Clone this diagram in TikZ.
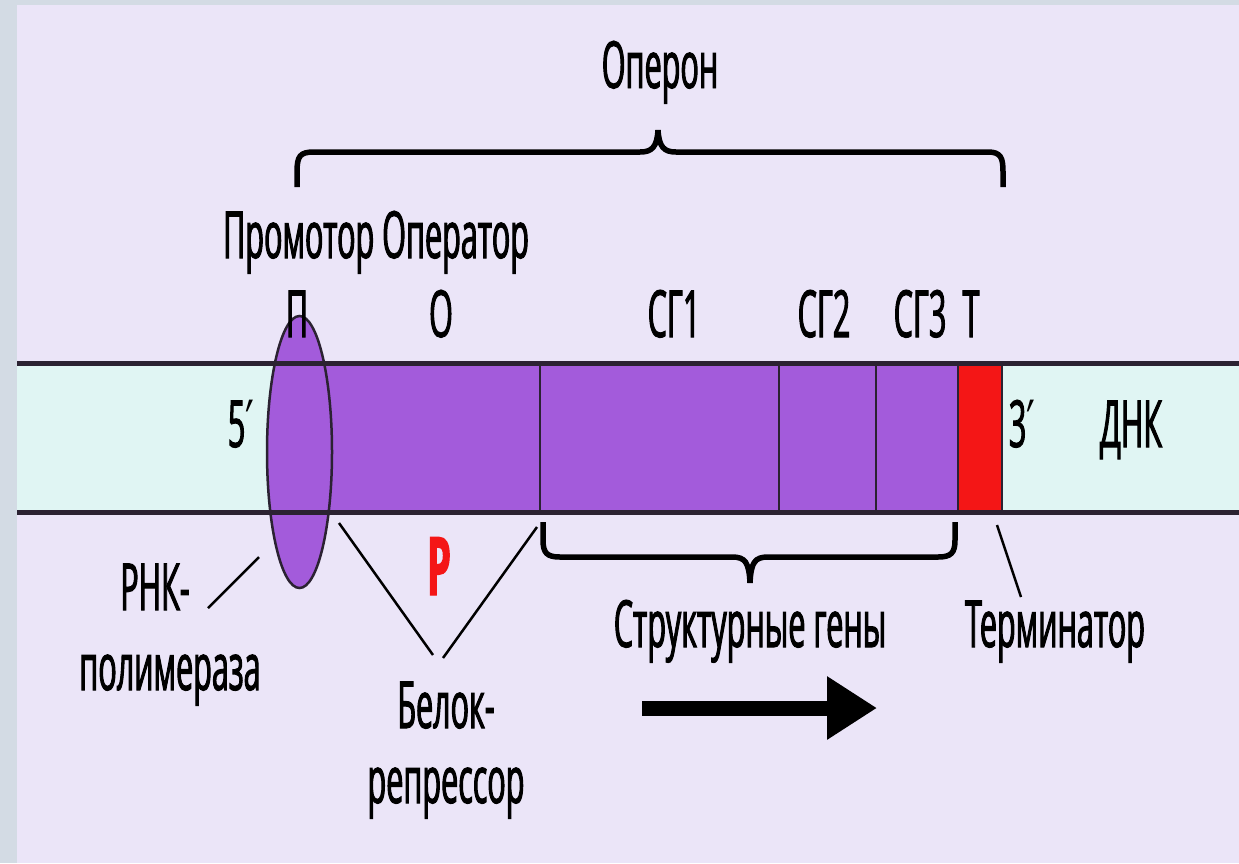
\documentclass[tikz,border=0pt]{standalone}
\usepackage{fontspec}
\setmainfont{Open Sans}[FakeStretch=0.47,FakeBold=1.5]
\newfontfamily\primefont{DejaVu Sans}[FakeStretch=0.6]
\usetikzlibrary{arrows.meta}

\definecolor{bgcol}{HTML}{EBE5F8}
\definecolor{rimcol}{HTML}{D3DBE4}
\definecolor{dnacol}{HTML}{E0F5F3}
\definecolor{genecol}{HTML}{A35BDB}
\definecolor{termcol}{HTML}{F41616}
\definecolor{edgecol}{HTML}{2B2232}

\tikzset{
  lbl/.style={anchor=base,inner sep=0pt,font=\fontsize{37}{44}\selectfont},
  strand/.style={edgecol,line width=0.1cm},
  border/.style={edgecol,line width=0.05cm},
  pointer/.style={black,line width=0.05cm},
  curly/.style={black,line width=0.11cm}
}

\begin{document}
\begin{tikzpicture}[x=0.02cm,y=-0.02cm]
\useasboundingbox (0,0) rectangle (1239,863);
\fill[rimcol] (0,0) rectangle (1239,863);
\fill[bgcol] (17,5) rectangle (1239,863);

% DNA band with operon
\fill[dnacol] (17,363) rectangle (1239,512);
\fill[genecol] (300,363) rectangle (958,512);
\fill[termcol] (958,363) rectangle (1002,512);
\filldraw[fill=genecol,draw=edgecol,line width=0.05cm] (299.5,452) ellipse [x radius=32.5,y radius=136];
\foreach \xb in {540,779,876,958,1002}
  \draw[border] (\xb,363) -- (\xb,512);
\draw[strand] (17,363) -- (1239,363);
\draw[strand] (17,512) -- (1239,512);

% labels
\node[lbl] (operon) at (660,88) {Оперон};
\node[lbl] (promop) at (376,258) {Промотор Оператор};
\node[lbl] (p) at (297,337) {П};
\node[lbl] (o) at (441,337) {О};
\node[lbl] (sg1) at (674,337) {СГ1};
\node[lbl] (sg2) at (824,337) {СГ2};
\node[lbl] (sg3) at (920,337) {СГ3};
\node[lbl] (t) at (971,337) {Т};
\node[lbl] (five) at (241,447) {5{\primefont ′}};
\node[lbl] (three) at (1022,447) {3{\primefont ′}};
\node[lbl] (dnk) at (1131,447) {ДНК};
\node[lbl] (rnk) at (155,610) {РНК-};
\node[lbl] (polym) at (170,690) {полимераза};
\node[lbl,termcol,font=\fontsize{46}{50}\selectfont\bfseries] (rep) at (439,595) {Р};
\node[lbl] (belok) at (446,728) {Белок-};
\node[lbl] (repr) at (446,803) {репрессор};
\node[lbl] (struct) at (750,647) {Структурные гены};
\node[lbl] (term) at (1055,647) {Терминатор};

% braces
\coordinate (opL) at (297,187);
\coordinate (opR) at (1003,187);
\draw[curly] (opL) -- (297,172) .. controls (297,156) and (300,152) .. (314,152)
  -- (640,152) .. controls (652,152) and (657,147) .. (658,130)
  .. controls (659,147) and (664,152) .. (676,152) -- (988,152)
  .. controls (1001,152) and (1003,158) .. (1003,172) -- (opR);
\coordinate (sgL) at (543,522);
\coordinate (sgR) at (955,522);
\draw[curly] (sgL) -- (543,540) .. controls (543,553) and (547,557) .. (560,557)
  -- (732,557) .. controls (745,557) and (749,562) .. (750,583)
  .. controls (751,562) and (755,557) .. (768,557) -- (938,557)
  .. controls (951,557) and (955,553) .. (955,540) -- (sgR);

% pointers
\coordinate (polTip) at (259,557);
\coordinate (polEnd) at (208,608);
\draw[pointer] (polEnd) -- (polTip);
\coordinate (belA) at (339,523);
\coordinate (belB) at (537,527);
\coordinate (belL) at (433,655);
\coordinate (belR) at (443,658);
\draw[pointer] (belA) -- (belL);
\draw[pointer] (belB) -- (belR);
\coordinate (termTop) at (997,525);
\coordinate (termEnd) at (1021,597);
\draw[pointer] (termTop) -- (termEnd);

% direction of transcription
\coordinate (arS) at (642,708);
\coordinate (arE) at (877,708);
\draw[line width=0.3cm,-{Triangle[length=1cm,width=1.2cm]}] (arS) -- (arE);
\end{tikzpicture}
\end{document}
